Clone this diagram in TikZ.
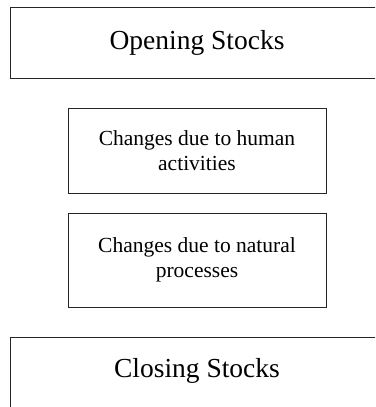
\documentclass[tikz,border=0pt]{standalone}
\usepackage{fontspec}
\setmainfont{Liberation Serif}
\begin{document}
\begin{tikzpicture}[x=1pt,y=-1pt,
  bigbox/.style={draw=black!85,line width=0.9pt},
  smallbox/.style={draw=black!85,line width=0.9pt,align=center,font=\fontsize{21.5}{25}\selectfont},
  bigtext/.style={font=\fontsize{27.5}{32}\selectfont}]
\useasboundingbox (0,0) rectangle (375,407);
\clip (0,0) rectangle (375,407);
\draw[bigbox] (10,7) rectangle (380,78);
\node[bigtext] (open) at (197,43) {Opening Stocks};
\node[smallbox,minimum width=258pt,minimum height=85pt] (human) at (197,150.5) {Changes due to human\\activities};
\node[smallbox,minimum width=258pt,minimum height=94pt] (natural) at (197,260) {Changes due to natural\\processes};
\draw[bigbox] (10,337) rectangle (380,412);
\node[bigtext] (close) at (197,371) {Closing Stocks};
\end{tikzpicture}
\end{document}
